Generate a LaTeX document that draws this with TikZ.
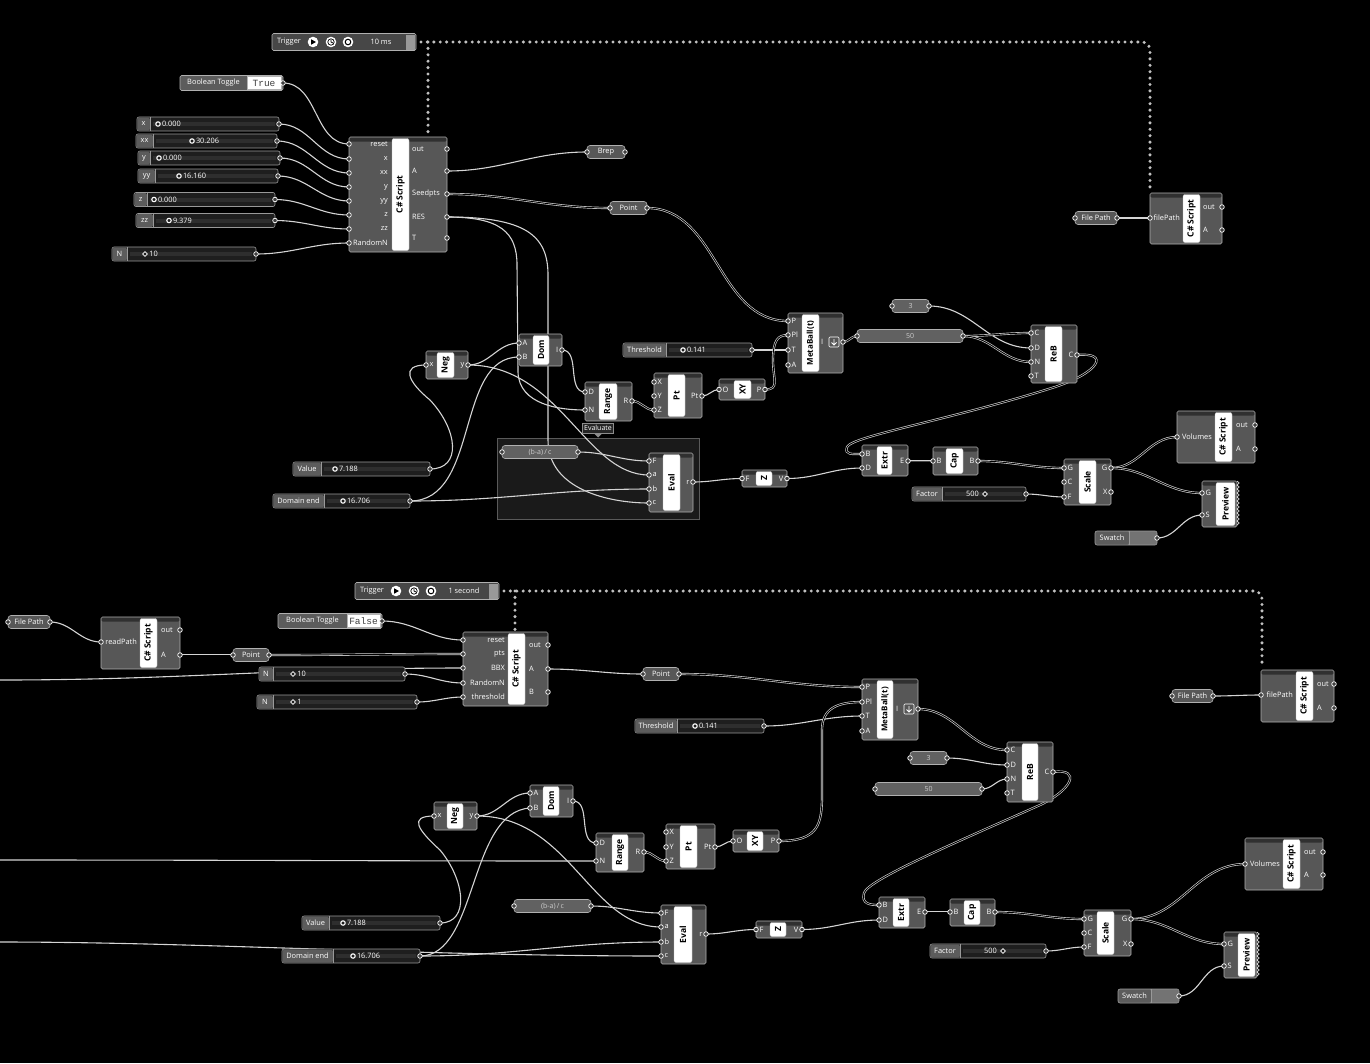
\documentclass[tikz,border=0pt]{standalone}
\usepackage{fontspec}
\setmainfont{Open Sans}
\setmonofont{Liberation Mono}
\usetikzlibrary{calc}
\pgfdeclarelayer{bg}
\pgfdeclarelayer{wires}
\pgfsetlayers{bg,wires,main}
\definecolor{ghbody}{HTML}{575757}
\definecolor{ghhead}{HTML}{303030}
\definecolor{ghedge}{HTML}{B0B0B0}
\definecolor{wirec}{HTML}{D4D4D4}
\definecolor{sldbody}{HTML}{1E1E1E}
\definecolor{sldcell}{HTML}{5C5C5C}
\definecolor{railc}{HTML}{2E2E2E}
\definecolor{grpfill}{HTML}{1A1A1A}
\definecolor{grpedge}{HTML}{5A5A5A}
\definecolor{dotc}{HTML}{C0C0C0}
\tikzset{
 compbox/.style={draw=ghedge, fill=ghbody, line width=0.6pt, rounded corners=1.5pt, inner sep=0pt, outer sep=0pt},
 stripbox/.style={fill=white, draw=black!25, line width=0.4pt, rounded corners=2pt, inner sep=0pt, text=black, font=\bfseries\fontsize{8.5}{9}\selectfont},
 plab/.style={text=white, inner sep=0pt, font=\fontsize{7.4}{8}\selectfont},
 port/.style={draw=white, fill=black!75, line width=0.7pt},
 wire/.style={draw=wirec, line width=1.1pt},
 dwire/.style={draw=wirec, line width=0.65pt, double=black, double distance=0.9pt},
 sldbox/.style={draw=black!40, fill=sldbody, line width=0.6pt, rounded corners=2pt, inner sep=0pt},
 parambox/.style={draw=ghedge, fill=ghbody, line width=0.6pt, rounded corners=3pt, inner sep=0pt, text=white, font=\fontsize{7.4}{8}\selectfont},
 panelbox/.style={draw=ghedge, fill=black!62, line width=0.6pt, rounded corners=3pt, inner sep=0pt, text=black!20, font=\fontsize{7}{8}\selectfont},
 dotline/.style={draw=dotc, line width=3.4pt, line cap=round, dash pattern=on 0pt off 6.4pt},
}
% component: name x1 y1 x2 y2 sx1 sx2 label
\newcommand\ghcomp[8]{%
 \node[compbox, minimum width={#4-#2}, minimum height={#5-#3}] (#1) at ({(#2+#4)/2},{(#3+#5)/2}) {};
 \fill[ghhead, rounded corners=1pt] ({#2+0.6},{#3+0.6}) rectangle ({#4-0.6},{#3+4.5});
 \node[stripbox, rotate=90, minimum width={#5-#3-3}, minimum height={#7-#6}] (#1-s) at ({(#6+#7)/2},{(#3+#5)/2}) {#8};}
\newcommand\pin[4]{\coordinate (#1) at (#2,#3); \node[plab,anchor=west] (#1-l) at ({#2+3.5},#3) {#4}; \draw[port] (#1) circle (2.3pt);}
\newcommand\pinr[5]{\coordinate (#1) at (#2,#3); \node[plab,anchor=east] (#1-l) at (#5,#3) {#4}; \draw[port] (#1) circle (2.3pt);}
\newcommand\pout[4]{\coordinate (#1) at (#2,#3); \node[plab,anchor=east] (#1-l) at ({#2-3.5},#3) {#4}; \draw[port] (#1) circle (2.3pt);}
\newcommand\poutl[5]{\coordinate (#1) at (#2,#3); \node[plab,anchor=west] (#1-l) at (#5,#3) {#4}; \draw[port] (#1) circle (2.3pt);}
% slider: name x1 x2 yc cellx2 label
\newcommand\sliderbase[6]{%
 \node[sldbox, minimum width={#3-#2}, minimum height=14] (#1) at ({(#2+#3)/2},#4) {};
 \fill[sldcell, rounded corners=1.5pt] ({#2+0.5},{#4-6.5}) rectangle (#5,{#4+6.5});
 \draw[black!40, line width=0.5pt] (#5,{#4-7}) -- (#5,{#4+7});
 \node[plab] (#1-l) at ({(#2+#5)/2},#4) {#6};
 \draw[railc, line width=4pt] ({#5+3},#4) -- ({#3-4},#4);
 \coordinate (#1-o) at (#3,#4); \draw[port] (#1-o) circle (2.3pt);}
\newcommand\knobc[4]{\draw[white, fill=sldbody, line width=1.1pt] (#2,#3) circle (2.2pt); \node[plab, anchor=west] (#1-v) at ({#2+3.8},#3) {#4};}
\newcommand\knobd[4]{\draw[white, fill=sldbody, line width=0.8pt] ({#2-2.4},#3) -- (#2,{#3-2.4}) -- ({#2+2.4},#3) -- (#2,{#3+2.4}) -- cycle; \node[plab, anchor=west] (#1-v) at ({#2+4.2},#3) {#4};}
\newcommand\sliderc[8]{\sliderbase{#1}{#2}{#3}{#4}{#5}{#6}\knobc{#1}{#7}{#4}{#8}}
\newcommand\sliderd[8]{\sliderbase{#1}{#2}{#3}{#4}{#5}{#6}\knobd{#1}{#7}{#4}{#8}}
% param: name x1 x2 yc text
\newcommand\param[5]{%
 \node[parambox, minimum width={#3-#2}, minimum height=13] (#1) at ({(#2+#3)/2},#4) {#5};
 \coordinate (#1-i) at (#2,#4); \coordinate (#1-o) at (#3,#4);
 \draw[port] (#1-i) circle (2.3pt); \draw[port] (#1-o) circle (2.3pt);}
\newcommand\panel[5]{%
 \node[panelbox, minimum width={#3-#2}, minimum height=13] (#1) at ({(#2+#3)/2},#4) {#5};
 \coordinate (#1-i) at (#2,#4); \coordinate (#1-o) at (#3,#4);
 \draw[port] (#1-i) circle (2.3pt); \draw[port] (#1-o) circle (2.3pt);}
\newcommand\swatch[5]{%
 \node[sldbox, fill=black!55, minimum width={#3-#2}, minimum height=14] (#1) at ({(#2+#3)/2},#4) {};
 \fill[sldcell, rounded corners=1.5pt] ({#2+0.5},{#4-6.5}) rectangle (#5,{#4+6.5});
 \draw[black!40, line width=0.5pt] (#5,{#4-7}) -- (#5,{#4+7});
 \node[plab] (#1-l) at ({(#2+#5)/2},#4) {Swatch};
 \coordinate (#1-o) at (#3,#4); \draw[port] (#1-o) circle (2.3pt);}
% trigger: name x1 x2 yc text iconx
\newcommand\trigger[6]{%
 \node[compbox, fill=black!72, minimum width={#3-#2}, minimum height=17] (#1) at ({(#2+#3)/2},#4) {};
 \node[plab] (#1-l) at ({#2+17},#4) {Trigger};
 \fill[white] (#6,#4) circle (5.3pt); \fill[black] ({#6-1.8},{#4-2.7}) -- ({#6-1.8},{#4+2.7}) -- ({#6+2.9},#4) -- cycle;
 \fill[white] ({#6+18},#4) circle (5.3pt); \draw[black, line width=0.7pt] ({#6+18},#4) circle (3.2pt);
 \draw[black, line width=0.7pt] ({#6+18},{#4-2.3}) -- ({#6+18},#4) -- ({#6+20},{#4+1});
 \fill[white] ({#6+35},#4) circle (5.3pt); \draw[black, line width=1pt] ({#6+35},#4) circle (2.8pt);
 \node[plab] (#1-v) at ({#6+68},#4) {#5};
 \fill[black!40] ({#3-10},{#4-7.5}) rectangle ({#3-1},{#4+7.5});}
% boolean toggle: name x1 x2 yc whitex1 text
\newcommand\btoggle[6]{%
 \node[compbox, fill=sldcell, minimum width={#3-#2}, minimum height=15] (#1) at ({(#2+#3)/2},#4) {};
 \node[plab] (#1-l) at ({(#2+#5)/2},#4) {Boolean Toggle};
 \node[fill=white, draw=black!30, inner sep=0pt, minimum width={#3-#5-2}, minimum height=13, text=black!75, font=\ttfamily\fontsize{9.5}{9.5}\selectfont] (#1-v) at ({(#5+#3-2)/2},#4) {#6};
 \coordinate (#1-o) at (#3,#4); \draw[port] (#1-o) circle (2.3pt);}
\newcommand\mbicon[2]{\draw[white, line width=0.6pt, rounded corners=1pt] ({#1-5},{#2-5}) rectangle ({#1+5},{#2+5});
 \draw[white, line width=0.8pt] (#1,{#2-3}) -- (#1,{#2+3}) ({#1-2.5},{#2+0.5}) -- (#1,{#2+3}) -- ({#1+2.5},{#2+0.5});}
\newcommand\zigzag[3]{\draw[white, line width=0.5pt] (#1,#2) \foreach \k in {1,...,#3} { -- ({#1+2.3},{#2+4*\k-2}) -- (#1,{#2+4*\k}) };}
\newcommand\mbtext{{\fontsize{8}{8}\selectfont MetaBall(t)}}

\begin{document}
\begin{tikzpicture}[x=1pt,y=-1pt]
\useasboundingbox (0,0) rectangle (1370,1063);
\begin{pgfonlayer}{bg}
\fill[black] (0,0) rectangle (1370,1063);
\node[draw=grpedge, fill=grpfill, line width=0.6pt, minimum width=202, minimum height=81, inner sep=0pt] (grp1) at (598,478.5) {};
\end{pgfonlayer}

%================= TOP =================
\trigger{trig1}{272}{416}{42}{10 ms}{313}
\btoggle{bt1}{180}{283}{83}{247}{True}
\sliderc{sx}{137}{279}{124}{150}{x}{158}{0.000}
\sliderc{sxx}{136}{277}{141}{153}{xx}{192}{30.206}
\sliderc{sy}{138}{280}{158}{150}{y}{159}{0.000}
\sliderc{syy}{138}{278}{176}{155}{yy}{179}{16.160}
\sliderc{sz}{134}{275}{199.5}{147}{z}{154}{0.000}
\sliderc{szz}{136}{275}{220.5}{153}{zz}{169}{9.379}
\sliderd{sN}{112}{256}{254}{127}{N}{145}{10}

\ghcomp{cs1}{349}{137}{447}{252}{392}{409}{C\# Script}
\pinr{cs1-reset}{349}{144}{reset}{388}
\pinr{cs1-x}{349}{159}{x}{388}
\pinr{cs1-xx}{349}{173}{xx}{388}
\pinr{cs1-y}{349}{187}{y}{388}
\pinr{cs1-yy}{349}{201}{yy}{388}
\pinr{cs1-z}{349}{215}{z}{388}
\pinr{cs1-zz}{349}{229}{zz}{388}
\pinr{cs1-rn}{349}{243}{RandomN}{388}
\poutl{cs1-out}{447}{149}{out}{412}
\poutl{cs1-A}{447}{171}{A}{412}
\poutl{cs1-seed}{447}{194}{Seedpts}{412}
\poutl{cs1-res}{447}{217}{RES}{412}
\poutl{cs1-T}{447}{238}{T}{412}

\param{brep}{587}{625}{152}{Brep}
\param{pt1}{610}{647}{208}{Point}

\ghcomp{mb1}{788}{313}{843}{373}{802}{819}{\mbtext}
\pin{mb1-P}{788}{321}{P}
\pin{mb1-Pl}{788}{335}{Pl}
\pin{mb1-T}{788}{350}{T}
\pin{mb1-A}{788}{365}{A}
\poutl{mb1-I}{843}{342}{I}{821}
\mbicon{834}{342}
\sliderc{th1}{623}{752}{350}{666}{Threshold}{683}{0.141}

\ghcomp{ptc1}{654}{373}{702}{418}{668}{685}{Pt}
\pin{ptc1-X}{654}{382}{X}
\pin{ptc1-Y}{654}{396}{Y}
\pin{ptc1-Z}{654}{410}{Z}
\pout{ptc1-Pt}{702}{396}{Pt}
\ghcomp{xy1}{719}{379}{765}{400}{734}{751}{XY}
\pin{xy1-O}{719}{389.5}{O}
\pout{xy1-P}{765}{389.5}{P}

\panel{p3a}{892}{929}{306}{3}
\panel{p50a}{857}{963}{336}{50}
\ghcomp{reb1}{1031}{325}{1077}{383}{1045}{1062}{ReB}
\pin{reb1-C}{1031}{333}{C}
\pin{reb1-D}{1031}{348}{D}
\pin{reb1-N}{1031}{362}{N}
\pin{reb1-T}{1031}{376}{T}
\pout{reb1-Co}{1077}{355}{C}

\ghcomp{neg1}{426}{351}{468}{379}{437}{454}{Neg}
\pin{neg1-x}{426}{365}{x}
\pout{neg1-y}{468}{365}{y}
\ghcomp{dom1}{519}{334}{562}{366}{533}{549}{Dom}
\pin{dom1-A}{519}{343}{A}
\pin{dom1-B}{519}{357}{B}
\pout{dom1-I}{562}{350}{I}
\ghcomp{rng1}{585}{382}{632}{421}{599}{617}{Range}
\pin{rng1-D}{585}{392}{D}
\pin{rng1-N}{585}{410}{N}
\pout{rng1-R}{632}{401}{R}
\sliderc{val1}{293}{430}{469}{321}{Value}{335}{7.188}
\sliderc{de1}{273}{410}{501}{324}{Domain end}{343}{16.706}

\node[draw=black!45, fill=black!85, inner sep=1.5pt, text=white, font=\fontsize{7}{7}\selectfont, minimum height=10] (tag1) at (598,428) {Evaluate};
\fill[black!45] (594,433.5) -- (602,433.5) -- (598,437.5) -- cycle;
\panel{ba1}{502}{578}{452}{(b-a)\,/\,c}
\ghcomp{ev1}{649}{453}{693}{512}{663}{680}{Eval}
\pin{ev1-F}{649}{461}{F}
\pin{ev1-a}{649}{475}{a}
\pin{ev1-b}{649}{489}{b}
\pin{ev1-c}{649}{503}{c}
\pout{ev1-r}{693}{482}{r}

\ghcomp{z1}{742}{470}{787}{487}{756}{772}{Z}
\pin{z1-F}{742}{478.5}{F}
\pout{z1-V}{787}{478.5}{V}
\ghcomp{ex1}{862}{445}{908}{476}{877}{892}{Extr}
\pin{ex1-B}{862}{454}{B}
\pin{ex1-D}{862}{468}{D}
\pout{ex1-E}{908}{461}{E}
\ghcomp{cap1}{933}{447}{978}{475}{946}{963}{Cap}
\pin{cap1-Bi}{933}{461}{B}
\pout{cap1-Bo}{978}{461}{B}
\ghcomp{sc1}{1064}{459}{1111}{505}{1079}{1096}{Scale}
\pin{sc1-G}{1064}{468}{G}
\pin{sc1-C}{1064}{482}{C}
\pin{sc1-F}{1064}{497}{F}
\pout{sc1-Go}{1111}{468}{G}
\pout{sc1-X}{1111}{492}{X}
\sliderbase{fac1}{912}{1026}{494}{942}{Factor}
\node[plab, anchor=east] (fac1-v) at (979,494) {500};
\draw[white, fill=sldbody, line width=0.8pt] (982.6,494) -- (985,491.6) -- (987.4,494) -- (985,496.4) -- cycle;

\ghcomp{vol1}{1177}{411}{1255}{463}{1215}{1232}{C\# Script}
\pinr{vol1-in}{1177}{437}{Volumes}{1212}
\poutl{vol1-out}{1255}{425}{out}{1236}
\poutl{vol1-A}{1255}{449}{A}{1236}
\ghcomp{pv1}{1202}{481}{1237}{527}{1216}{1235}{Preview}
\pin{pv1-G}{1202}{493}{G}
\pin{pv1-S}{1202}{515}{S}
\zigzag{1237}{481}{11}
\swatch{sw1}{1095}{1157}{538}{1129}

\param{fp1}{1075}{1117}{218}{File Path}
\ghcomp{cs2}{1150}{193}{1222}{244}{1183}{1200}{C\# Script}
\pinr{cs2-fp}{1150}{218}{filePath}{1180}
\poutl{cs2-out}{1222}{207}{out}{1203}
\poutl{cs2-A}{1222}{230}{A}{1203}

%================= BOTTOM =================
\trigger{trig2}{355}{499}{591}{1 second}{396}
\param{fp2}{8}{50}{622}{File Path}
\ghcomp{cs3}{101}{617}{180}{669}{140}{157}{C\# Script}
\pinr{cs3-rp}{101}{642}{readPath}{137}
\poutl{cs3-out}{180}{630}{out}{161}
\poutl{cs3-A}{180}{655}{A}{161}
\param{pt2}{233}{269}{655}{Point}
\btoggle{bt2}{278}{382}{621}{347}{False}
\sliderd{n2}{259}{405}{674}{273}{N}{293}{10}
\sliderd{n3}{257}{417}{702}{273}{N}{293}{1}

\ghcomp{cs4}{463}{632}{548}{706}{508}{525}{C\# Script}
\pinr{cs4-reset}{463}{640}{reset}{505}
\pinr{cs4-pts}{463}{654}{pts}{505}
\pinr{cs4-BBX}{463}{668}{BBX}{505}
\pinr{cs4-rn}{463}{683}{RandomN}{505}
\pinr{cs4-th}{463}{697}{threshold}{505}
\poutl{cs4-out}{548}{645}{out}{529}
\poutl{cs4-A}{548}{669}{A}{529}
\poutl{cs4-B}{548}{692}{B}{529}

\param{pt3}{643}{679}{674}{Point}
\ghcomp{mb2}{862}{679}{918}{740}{877}{893}{\mbtext}
\pin{mb2-P}{862}{687}{P}
\pin{mb2-Pl}{862}{702}{Pl}
\pin{mb2-T}{862}{716}{T}
\pin{mb2-A}{862}{731}{A}
\poutl{mb2-I}{918}{709}{I}{896}
\mbicon{909}{709}
\sliderc{th2}{635}{764}{726}{677}{Threshold}{695}{0.141}

\panel{p3b}{910}{947}{758}{3}
\panel{p50b}{875}{982}{789}{50}
\ghcomp{reb2}{1007}{742}{1053}{802}{1022}{1038}{ReB}
\pin{reb2-C}{1007}{750}{C}
\pin{reb2-D}{1007}{765}{D}
\pin{reb2-N}{1007}{779}{N}
\pin{reb2-T}{1007}{793}{T}
\pout{reb2-Co}{1053}{772}{C}

\ghcomp{neg2}{434}{802}{477}{830}{447}{463}{Neg}
\pin{neg2-x}{434}{816}{x}
\pout{neg2-y}{477}{816}{y}
\ghcomp{dom2}{530}{785}{573}{817}{543}{559}{Dom}
\pin{dom2-A}{530}{793}{A}
\pin{dom2-B}{530}{808}{B}
\pout{dom2-I}{573}{801}{I}
\ghcomp{rng2}{596}{833}{644}{872}{612}{628}{Range}
\pin{rng2-D}{596}{843}{D}
\pin{rng2-N}{596}{861}{N}
\pout{rng2-R}{644}{852}{R}
\ghcomp{ptc2}{666}{824}{715}{869}{680}{697}{Pt}
\pin{ptc2-X}{666}{832}{X}
\pin{ptc2-Y}{666}{847}{Y}
\pin{ptc2-Z}{666}{861}{Z}
\pout{ptc2-Pt}{715}{847}{Pt}
\ghcomp{xy2}{733}{830}{779}{852}{747}{763}{XY}
\pin{xy2-O}{733}{841}{O}
\pout{xy2-P}{779}{841}{P}
\sliderc{val2}{302}{440}{923}{329}{Value}{343}{7.188}
\sliderc{de2}{282}{420}{956}{333}{Domain end}{353}{16.706}
\panel{ba2}{514}{591}{906}{(b-a)\,/\,c}
\ghcomp{ev2}{661}{905}{706}{964}{674}{692}{Eval}
\pin{ev2-F}{661}{913}{F}
\pin{ev2-a}{661}{927}{a}
\pin{ev2-b}{661}{942}{b}
\pin{ev2-c}{661}{956}{c}
\pout{ev2-r}{706}{934}{r}

\ghcomp{z2}{756}{921}{802}{938}{770}{786}{Z}
\pin{z2-F}{756}{929.5}{F}
\pout{z2-V}{802}{929.5}{V}
\ghcomp{ex2}{879}{897}{925}{928}{893}{909}{Extr}
\pin{ex2-B}{879}{905}{B}
\pin{ex2-D}{879}{920}{D}
\pout{ex2-E}{925}{912}{E}
\ghcomp{cap2}{950}{899}{995}{926}{964}{980}{Cap}
\pin{cap2-Bi}{950}{912}{B}
\pout{cap2-Bo}{995}{912}{B}
\ghcomp{sc2}{1084}{910}{1131}{956}{1097}{1114}{Scale}
\pin{sc2-G}{1084}{919}{G}
\pin{sc2-C}{1084}{933}{C}
\pin{sc2-F}{1084}{947}{F}
\pout{sc2-Go}{1131}{919}{G}
\pout{sc2-X}{1131}{944}{X}
\sliderbase{fac2}{930}{1046}{951}{960}{Factor}
\node[plab, anchor=east] (fac2-v) at (997,951) {500};
\draw[white, fill=sldbody, line width=0.8pt] (1000.6,951) -- (1003,948.6) -- (1005.4,951) -- (1003,953.4) -- cycle;
\ghcomp{vol2}{1245}{838}{1323}{890}{1283}{1300}{C\# Script}
\pinr{vol2-in}{1245}{864}{Volumes}{1280}
\poutl{vol2-out}{1323}{852}{out}{1304}
\poutl{vol2-A}{1323}{875}{A}{1304}
\ghcomp{pv2}{1224}{932}{1257}{978}{1238}{1255}{Preview}
\pin{pv2-G}{1224}{944}{G}
\pin{pv2-S}{1224}{966}{S}
\zigzag{1257}{932}{11}
\swatch{sw2}{1118}{1179}{996}{1151}

\param{fp3}{1172}{1213}{696}{File Path}
\ghcomp{cs5}{1261}{670}{1334}{722}{1296}{1313}{C\# Script}
\pinr{cs5-fp}{1261}{695}{filePath}{1293}
\poutl{cs5-out}{1334}{684}{out}{1317}
\poutl{cs5-A}{1334}{708}{A}{1317}

% free ends
\coordinate (trig1-o) at (421,42);
\coordinate (trig1-d) at (428,42);
\coordinate (dcorner1) at (1150,42);
\coordinate (cs2-top) at (1150,191);
\coordinate (cs1-top) at (428,135);
\coordinate (trig2-o) at (504,591);
\coordinate (trig2-d) at (515,591);
\coordinate (dcorner2) at (1262,591);
\coordinate (cs5-top) at (1262,668);
\coordinate (cs4-top) at (515,630);
\coordinate (lft1) at (0,680);
\coordinate (lft2) at (0,860);
\coordinate (lft3) at (0,942);

\begin{pgfonlayer}{wires}
\draw[dotline, rounded corners=8pt] (trig1-o) -- (dcorner1) -- (cs2-top);
\draw[dotline] (trig1-d) -- (cs1-top);
\draw[dotline, rounded corners=8pt] (trig2-o) -- (dcorner2) -- (cs5-top);
\draw[dotline] (trig2-d) -- (cs4-top);
% top
\foreach \a/\b in {bt1-o/cs1-reset, sx-o/cs1-x, sxx-o/cs1-xx, sy-o/cs1-y, syy-o/cs1-yy, sz-o/cs1-z, szz-o/cs1-zz, sN-o/cs1-rn, cs1-A/brep-i, neg1-y/dom1-A, de1-o/ev1-b, ba1-o/ev1-F, dom1-I/rng1-D, ptc1-Pt/xy1-O, th1-o/mb1-T, p3a-o/reb1-D, ev1-r/z1-F, z1-V/ex1-D, fac1-o/sc1-F, sw1-o/pv1-S, fp1-o/cs2-fp}
  \draw[wire] (\a) to[out=0,in=180] (\b);
\foreach \a/\b in {cs1-seed/pt1-i, pt1-o/mb1-P, rng1-R/ptc1-Z, mb1-I/p50a-i, p50a-o/reb1-C, p50a-o/reb1-N, ex1-E/cap1-Bi, cap1-Bo/sc1-G, sc1-Go/vol1-in, sc1-Go/pv1-G}
  \draw[dwire] (\a) to[out=0,in=180] (\b);
\draw[wire] (cs1-res) .. controls (500,217) and (517,232) .. (517,265) -- (518,372) .. controls (519,405) and (560,410) .. (rng1-N);
\draw[wire] (cs1-res) .. controls (525,217) and (548,235) .. (548,275) -- (548,440) .. controls (548,490) and (610,503) .. (ev1-c);
\draw[wire] (neg1-y) .. controls (560,365) and (585,475) .. (ev1-a);
\draw[wire] (de1-o) .. controls (480,501) and (455,357) .. (dom1-B);
\draw[wire] (val1-o) .. controls (462,469) and (458,430) .. (430,400) .. controls (408,382) and (400,365) .. (neg1-x);
\draw[dwire] (xy1-P) .. controls (780,389.5) and (773,380) .. (773,360) .. controls (773,340) and (778,335) .. (mb1-Pl);
\draw[dwire] (reb1-Co) .. controls (1110,352) and (1100,372) .. (1055,387) .. controls (950,420) and (852,436) .. (847,447) .. controls (844,455) and (852,454) .. (ex1-B);
% bottom
\foreach \a/\b in {fp2-o/cs3-rp, bt2-o/cs4-reset, lft1/cs4-BBX, n2-o/cs4-rn, n3-o/cs4-th, cs4-A/pt3-i, th2-o/mb2-T, p3b-o/reb2-D, p50b-o/reb2-N, neg2-y/dom2-A, de2-o/ev2-b, lft2/rng2-N, dom2-I/rng2-D, ptc2-Pt/xy2-O, ba2-o/ev2-F, ev2-r/z2-F, z2-V/ex2-D, fac2-o/sc2-F, sw2-o/pv2-S, fp3-o/cs5-fp}
  \draw[wire] (\a) to[out=0,in=180] (\b);
\foreach \a/\b in {cs3-A/pt2-i, pt2-o/cs4-pts, pt3-o/mb2-P, mb2-I/reb2-C, rng2-R/ptc2-Z, ex2-E/cap2-Bi, cap2-Bo/sc2-G, sc2-Go/vol2-in, sc2-Go/pv2-G}
  \draw[dwire] (\a) to[out=0,in=180] (\b);
\draw[wire] (lft3) .. controls (200,942) and (420,956) .. (ev2-c);
\draw[wire] (neg2-y) .. controls (570,816) and (590,927) .. (ev2-a);
\draw[wire] (de2-o) .. controls (478,956) and (468,812) .. (dom2-B);
\draw[wire] (val2-o) .. controls (470,923) and (465,880) .. (440,850) .. controls (418,830) and (408,816) .. (neg2-x);
\draw[dwire] (xy2-P) .. controls (818,841) and (822,825) .. (822,795) -- (822,730) .. controls (822,708) and (838,702) .. (mb2-Pl);
\draw[dwire] (reb2-Co) .. controls (1082,768) and (1072,790) .. (1040,805) .. controls (950,845) and (868,880) .. (864,893) .. controls (861,904) and (870,905) .. (ex2-B);
\end{pgfonlayer}
\end{tikzpicture}
\end{document}
